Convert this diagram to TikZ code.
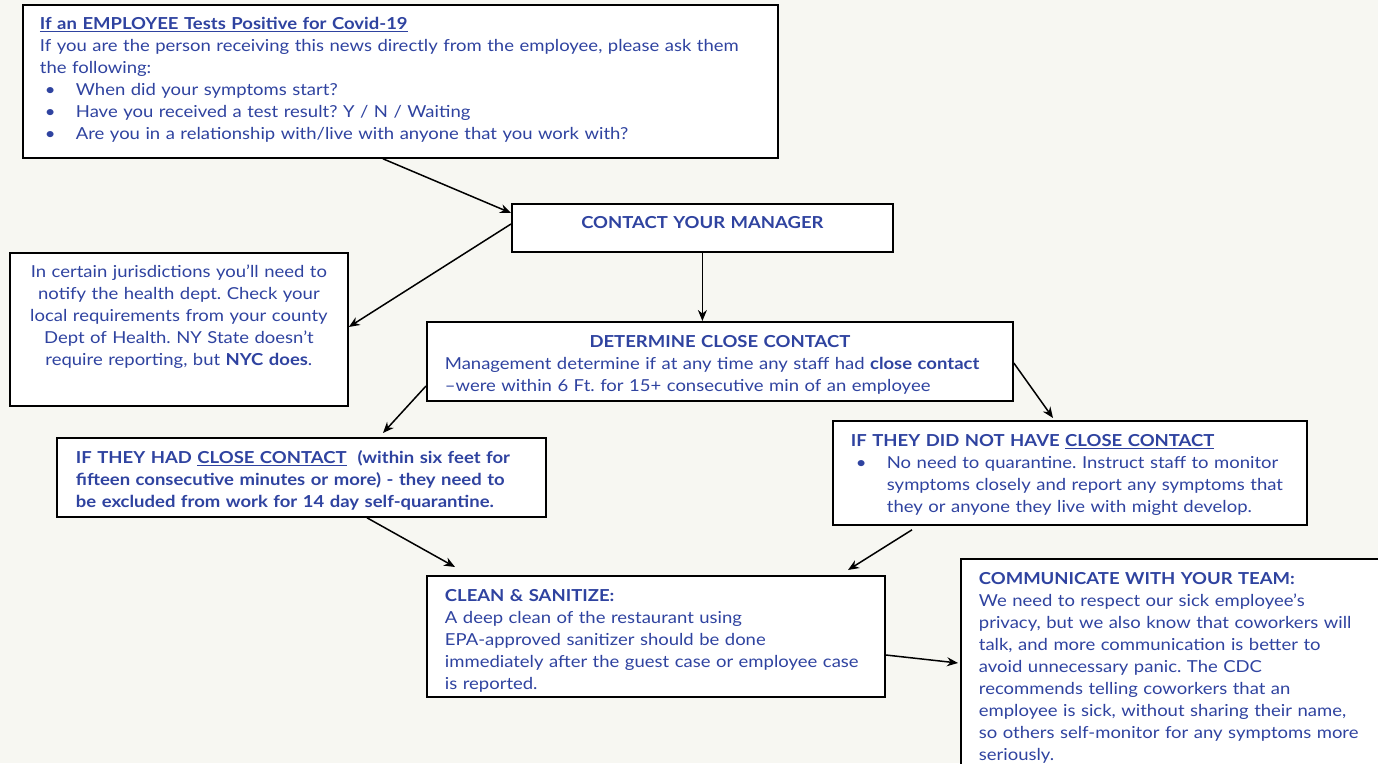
\documentclass[tikz,border=0pt]{standalone}
\usepackage{fontspec}
\setmainfont{Lato}[FakeStretch=1.12]
\usetikzlibrary{arrows.meta}

\definecolor{ink}{RGB}{47,67,160}
\definecolor{paper}{RGB}{247,247,242}
\newcommand{\bitem}{\hspace*{5pt}\makebox[31pt][l]{\textbullet}}
\frenchspacing

\begin{document}
\begin{tikzpicture}[x=1pt, y=-1pt, >={Stealth[length=11pt,width=9pt]},
    box/.style={draw=black, line width=1.8pt, fill=white, text=ink, anchor=north west,
      inner ysep=0pt, inner xsep=18pt, align=left, font=\fontsize{16.5}{22}\selectfont}]
    \useasboundingbox (0,0) rectangle (1378,763);
    \clip (0,0) rectangle (1378,763);
    \fill[paper] (0,0) rectangle (1378,763);

    % questions
    \node(report) [box, inner xsep=17pt, text width=721pt, text height=25pt, text depth=128pt] at (22,4)
      {\underline{\textbf{If an EMPLOYEE Tests Positive for Covid-19}}\\
       \mbox{If you are the person receiving this news directly from the employee, please ask them}\\
       the following:\\
       \bitem When did your symptoms start?\\
       \bitem Have you received a test result? Y / N / Waiting\\
       \bitem Are you in a relationship with/live with anyone that you work with?};

    % manager
    \node(contact) [box, align=center, inner xsep=10pt, text width=361pt, text height=25pt, text depth=23pt] at (511,203)
      {\textbf{CONTACT YOUR MANAGER}};
    \node(health) [box, align=center, inner xsep=10pt, text width=318pt, text height=25pt, text depth=128pt] at (9,252)
      {In certain jurisdictions you’ll need to\\
       notify the health dept. Check your\\
       \mbox{local requirements from your county}\\
       Dept of Health. NY State doesn’t\\
       require reporting, but \textbf{NYC does}.};

    % close contact
    \node(determine) [box, text width=550pt, text height=26pt, text depth=53pt] at (426,321)
      {\makebox[\linewidth][c]{\textbf{DETERMINE CLOSE CONTACT}}\\
       \mbox{Management determine if at any time any staff had \textbf{close contact}}\\
       \mbox{–were within 6 Ft. for 15+ consecutive min of an employee}};
    \node(closecc) [box, inner xsep=19pt, text width=451pt, text height=26pt, text depth=53pt] at (56,437)
      {\mbox{\textbf{IF THEY HAD \underline{CLOSE CONTACT}\ \ (within six feet for}}\\
       \mbox{\textbf{fifteen consecutive minutes or more) - they need to}}\\
       \mbox{\textbf{be excluded from work for 14 day self-quarantine.}}};
    \node(noclosecc) [box, text width=438pt, text height=26pt, text depth=78pt] at (832,420)
      {\textbf{IF THEY DID NOT HAVE \underline{CLOSE CONTACT}}\\
       \bitem No need to quarantine. Instruct staff to monitor\\
       \hspace*{36pt}symptoms closely and report any symptoms that\\
       \hspace*{36pt}they or anyone they live with might develop.};

    % after
    \node(clean) [box, text width=422pt, text height=26pt, text depth=95pt] at (426,575)
      {\textbf{CLEAN \& SANITIZE:}\\
       A deep clean of the restaurant using\\
       EPA-approved sanitizer should be done\\
       \mbox{immediately after the guest case or employee case}\\
       is reported.};
    \node(team) [box, text width=400pt, text height=26pt, text depth=200pt] at (960,558)
      {\textbf{COMMUNICATE WITH YOUR TEAM:}\\
       We need to respect our sick employee's\\
       \mbox{privacy, but we also know that coworkers will}\\
       talk, and more communication is better to\\
       avoid unnecessary panic. The CDC\\
       recommends telling coworkers that an\\
       \mbox{employee is sick, without sharing their name,}\\
       \mbox{so others self-monitor for any symptoms more}\\
       seriously.};

    % arrows
    \draw [->][line width=1.5pt] ([xshift=361pt]report.south west) to ([yshift=-10pt]contact.north west);
    \draw [->][line width=1.5pt] ([yshift=-21pt]contact.north west) to ([yshift=-75pt]health.north east);
    \draw [->][line width=1.5pt] (contact.south) to (contact.south |- determine.north);
    \draw [->][line width=1.5pt] ([yshift=-65pt]determine.north west) to ([xshift=327pt,yshift=4pt]closecc.north west);
    \draw [->][line width=1.5pt] ([yshift=-42pt]determine.north east) to ([xshift=221pt,yshift=2pt]noclosecc.north west);
    \draw [->][line width=1.5pt] ([xshift=311pt]closecc.south west) to ([xshift=29pt,yshift=8pt]clean.north west);
    \draw [->][line width=1.5pt] ([xshift=80pt,yshift=-4pt]noclosecc.south west) to ([xshift=422pt,yshift=5pt]clean.north west);
    \draw [->][line width=1.5pt] ([yshift=-80pt]clean.north east) to ([xshift=-2pt,yshift=-105pt]team.north west);
\end{tikzpicture}
\end{document}
